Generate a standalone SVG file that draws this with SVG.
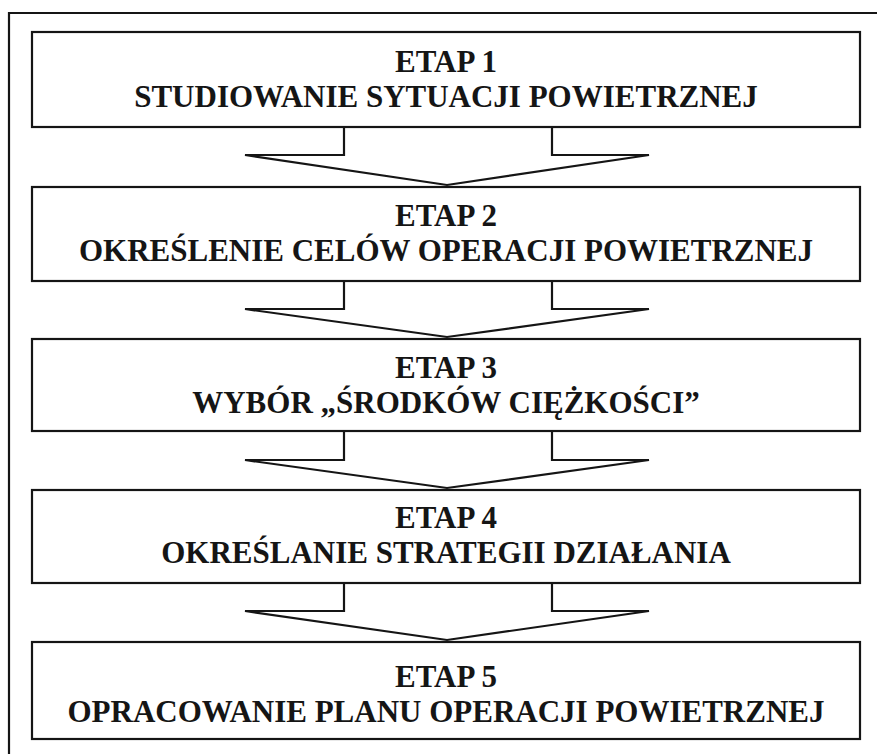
<svg xmlns="http://www.w3.org/2000/svg" width="877" height="754" viewBox="0 0 877 754">
<style>
.box{fill:#fff;stroke:#151515;stroke-width:2.2}
.frame{fill:none;stroke:#151515;stroke-width:2.2}
.arr{fill:none;stroke:#151515;stroke-width:2.2;stroke-linejoin:miter}
text{font-family:"Liberation Serif","Times New Roman",serif;font-weight:bold;font-size:31px;fill:#151515;text-anchor:middle}
</style>
<rect width="877" height="754" fill="#fff"/>
<path class="frame" d="M9,754 V13 H877"/>
<g id="connectors">
<path class="arr" d="M344,127 V155 H245 L447,185 L649,155 H552 V127"/>
<path class="arr" d="M344,281 V309 H245 L447,337 L649,309 H552 V281"/>
<path class="arr" d="M344,431 V460 H245 L447,488 L649,460 H552 V431"/>
<path class="arr" d="M344,583 V611 H245 L447,640 L649,611 H552 V583"/>
</g>
<g id="etap1">
<rect class="box" x="32" y="32" width="828" height="95"/>
<text x="446" y="72">ETAP 1</text>
<text x="446" y="107">STUDIOWANIE SYTUACJI POWIETRZNEJ</text>
</g>
<g id="etap2">
<rect class="box" x="32" y="187" width="828" height="94"/>
<text x="446" y="226">ETAP 2</text>
<text x="446" y="261">OKREŚLENIE CELÓW OPERACJI POWIETRZNEJ</text>
</g>
<g id="etap3">
<rect class="box" x="32" y="339" width="828" height="92"/>
<text x="446" y="378">ETAP 3</text>
<text x="446" y="413">WYBÓR „ŚRODKÓW CIĘŻKOŚCI”</text>
</g>
<g id="etap4">
<rect class="box" x="32" y="490" width="828" height="93"/>
<text x="446" y="528">ETAP 4</text>
<text x="446" y="563">OKREŚLANIE STRATEGII DZIAŁANIA</text>
</g>
<g id="etap5">
<rect class="box" x="32" y="642" width="828" height="97"/>
<text x="446" y="687">ETAP 5</text>
<text x="446" y="722">OPRACOWANIE PLANU OPERACJI POWIETRZNEJ</text>
</g>
</svg>
